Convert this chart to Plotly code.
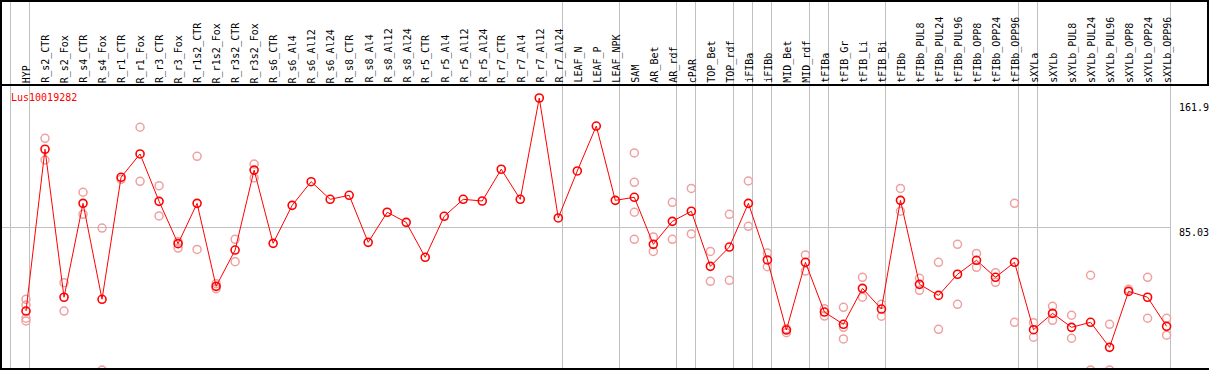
import math
import plotly.graph_objects as go

categories = [
    "HYP", "R_s2_CTR", "R_s2_Fox", "R_s4_CTR", "R_s4_Fox", "R_r1_CTR", "R_r1_Fox",
    "R_r3_CTR", "R_r3_Fox", "R_r1s2_CTR", "R_r1s2_Fox", "R_r3s2_CTR", "R_r3s2_Fox",
    "R_s6_CTR", "R_s6_Al4", "R_s6_Al12", "R_s6_Al24", "R_s8_CTR", "R_s8_Al4",
    "R_s8_Al12", "R_s8_Al24", "R_r5_CTR", "R_r5_Al4", "R_r5_Al12", "R_r5_Al24",
    "R_r7_CTR", "R_r7_Al4", "R_r7_Al12", "R_r7_Al24", "LEAF_N", "LEAF_P", "LEAF_NPK",
    "SAM", "AR_Bet", "AR_rdf", "cPAR", "TOP_Bet", "TOP_rdf", "iFIBa", "iFIBb",
    "MID_Bet", "MID_rdf", "tFIBa", "tFIB_Gr", "tFIB_Li", "tFIB_Bi", "tFIBb",
    "tFIBb_PUL8", "tFIBb_PUL24", "tFIBb_PUL96", "tFIBb_OPP8", "tFIBb_OPP24",
    "tFIBb_OPP96", "sXYLa", "sXYLb", "sXYLb_PUL8", "sXYLb_PUL24", "sXYLb_PUL96",
    "sXYLb_OPP8", "sXYLb_OPP24", "sXYLb_OPP96",
]

mean_values = [
    35.1, 131.4, 43.3, 99.2, 42.1, 114.7, 128.6, 100.4, 75.2, 99.2, 49.8, 71.4, 119.0,
    75.4, 98.0, 112.1, 101.6, 104.0, 76.0, 93.9, 87.9, 67.1, 91.5, 101.6, 100.6,
    119.5, 101.6, 161.9, 90.5, 118.5, 145.2, 101.0, 102.8, 74.8, 88.5, 94.5, 61.7,
    73.2, 99.2, 65.5, 23.8, 64.1, 34.5, 27.2, 48.6, 36.3, 101.0, 51.0, 44.4, 57.0,
    65.3, 55.2, 64.1, 24.0, 33.7, 25.4, 28.4, 13.5, 46.8, 43.3, 26.0,
]

rep_categories = [
    "HYP", "HYP", "HYP", "HYP", "R_s2_CTR", "R_s2_CTR", "R_s2_Fox", "R_s2_Fox",
    "R_s4_CTR", "R_s4_CTR", "R_s4_Fox", "R_s4_Fox", "R_r1_CTR", "R_r1_Fox", "R_r1_Fox",
    "R_r3_CTR", "R_r3_CTR", "R_r3_Fox", "R_r3_Fox", "R_r1s2_CTR", "R_r1s2_CTR",
    "R_r1s2_Fox", "R_r1s2_Fox", "R_r3s2_CTR", "R_r3s2_CTR", "R_r3s2_Fox", "R_r3s2_Fox",
    "SAM", "SAM", "SAM", "SAM", "AR_Bet", "AR_Bet", "AR_rdf", "AR_rdf", "cPAR", "cPAR",
    "TOP_Bet", "TOP_Bet", "TOP_rdf", "TOP_rdf", "iFIBa", "iFIBa", "iFIBb", "iFIBb",
    "MID_Bet", "MID_Bet", "MID_rdf", "MID_rdf", "tFIBa", "tFIBa",
    "tFIB_Gr", "tFIB_Gr", "tFIB_Gr", "tFIB_Li", "tFIB_Li", "tFIB_Bi", "tFIB_Bi",
    "tFIBb", "tFIBb", "tFIBb_PUL8", "tFIBb_PUL8", "tFIBb_PUL24", "tFIBb_PUL24",
    "tFIBb_PUL96", "tFIBb_PUL96", "tFIBb_OPP8", "tFIBb_OPP8", "tFIBb_OPP24", "tFIBb_OPP24",
    "tFIBb_OPP96", "tFIBb_OPP96", "sXYLa", "sXYLa", "sXYLb", "sXYLb",
    "sXYLb_PUL8", "sXYLb_PUL8", "sXYLb_PUL24", "sXYLb_PUL24", "sXYLb_PUL96", "sXYLb_PUL96",
    "sXYLb_OPP8", "sXYLb_OPP24", "sXYLb_OPP24", "sXYLb_OPP96", "sXYLb_OPP96",
]

rep_values = [
    42.1, 38.7, 30.8, 29.2, 137.9, 125.0, 52.0, 35.1,
    105.8, 92.7, 84.5, 0.0, 113.5, 144.5, 112.3,
    109.7, 91.7, 76.4, 72.6, 127.2, 71.8,
    51.4, 48.4, 77.8, 64.5, 122.6, 114.3,
    129.2, 111.7, 93.9, 77.8, 79.2, 70.6, 99.8, 77.8, 108.1, 81.0,
    70.6, 52.8, 92.7, 53.4, 112.5, 85.5, 69.6, 61.5,
    24.6, 22.2, 68.5, 58.9, 36.5, 32.1,
    37.3, 25.4, 18.5, 55.2, 43.3, 39.1, 32.0,
    108.1, 94.5, 54.6, 47.4, 64.1, 24.2,
    74.8, 39.1, 69.4, 61.1, 57.9, 52.2,
    99.2, 28.4, 28.2, 19.5, 37.9, 29.6,
    32.6, 18.9, 56.4, 0.0, 27.2, 0.0,
    48.0, 55.2, 30.8, 30.8, 20.7,
]

group_ends = [-1, 0, 28, 31, 34, 35, 37, 38, 39, 41, 42, 45, 52, 53, 60]
y_ticks = [161.9, 85.03, 0]
y_tick_labels = ["161.9", "85.03", "0"]
gene_name = "Lus10019282"

# ---- geometry (pixels) ----
W, H = 1209, 370
TOP_M, BOT_M = 86, 1
X_ORIGIN, X_STEP = 26, 19.01
X0 = -X_ORIGIN / X_STEP
X1 = (W - X_ORIGIN) / X_STEP
Y0, Y1 = 0.6, 169.05
PH = H - TOP_M - BOT_M


def xpix(v):
    return X_ORIGIN + X_STEP * v


def ypix(v):
    return TOP_M + (Y1 - v) * PH / (Y1 - Y0)


def px2paper_x(px):
    return px / W


def px2paper_y(px):
    return (H - BOT_M - px) / PH


def crisp(px):
    return math.floor(px) + 0.5


idx = {c: i for i, c in enumerate(categories)}
x_main = list(range(len(categories)))
x_rep = [idx[c] for c in rep_categories]

MONO = "DejaVu Sans Mono"
GRAY = "#c0c0c0"

fig = go.Figure()
fig.add_trace(go.Scatter(
    x=x_rep, y=rep_values, mode="markers",
    marker=dict(symbol="circle-open", size=8, color="#f0a0a0", line=dict(width=1.5, color="#f0a0a0")),
    hoverinfo="skip", showlegend=False,
))
fig.add_trace(go.Scatter(
    x=x_main, y=mean_values, mode="lines+markers",
    line=dict(color="#ff0000", width=1),
    marker=dict(symbol="circle-open", size=8, color="#ff0000", line=dict(width=1.6, color="#ff0000")),
    text=categories, showlegend=False,
))

shapes = []
# group separators (full height), snapped to pixel columns
for g in group_ends:
    cx = crisp(xpix(g + 0.2))
    xp = px2paper_x(cx)
    shapes.append(dict(type="line", xref="paper", yref="paper", x0=xp, x1=xp,
                       y0=px2paper_y(H), y1=px2paper_y(0),
                       line=dict(color=GRAY, width=1), layer="below"))
    # same separator in data coordinates (plot-area part)
    xv = (cx - X_ORIGIN) / X_STEP
    shapes.append(dict(type="line", xref="x", yref="paper", x0=xv, x1=xv, y0=0, y1=1,
                       line=dict(color=GRAY, width=1), layer="below"))
# horizontal grid at middle tick
yp = px2paper_y(crisp(ypix(y_ticks[1])))
shapes.append(dict(type="line", xref="paper", yref="paper", x0=0,
                   x1=px2paper_x(crisp(xpix(60 + 0.2)) + 0.5),
                   y0=yp, y1=yp, line=dict(color=GRAY, width=1), layer="below"))
# black frame
BLK = dict(color="black", width=2)
shapes.append(dict(type="line", xref="paper", yref="paper", x0=0, x1=1, y0=px2paper_y(1), y1=px2paper_y(1), line=BLK))
shapes.append(dict(type="line", xref="paper", yref="paper", x0=0, x1=1, y0=px2paper_y(85), y1=px2paper_y(85), line=BLK))
shapes.append(dict(type="line", xref="paper", yref="paper", x0=0, x1=1, y0=px2paper_y(369), y1=px2paper_y(369), line=BLK))
shapes.append(dict(type="line", xref="paper", yref="paper", x0=px2paper_x(1), x1=px2paper_x(1),
                   y0=px2paper_y(370), y1=px2paper_y(0), line=BLK))
shapes.append(dict(type="line", xref="paper", yref="paper", x0=px2paper_x(W - 1), x1=px2paper_x(W - 1),
                   y0=px2paper_y(86), y1=px2paper_y(0), line=BLK))

annotations = []
for i, c in enumerate(categories):
    annotations.append(dict(x=i + 0.07, xref="x", y=px2paper_y(84), yref="paper", text=c,
                            textangle=-90, xanchor="center", yanchor="bottom", showarrow=False,
                            font=dict(family=MONO, size=10, color="black"), borderpad=0))
annotations.append(dict(x=px2paper_x(10), xref="paper", y=px2paper_y(97), yref="paper", text=gene_name,
                        xanchor="left", yanchor="middle", showarrow=False,
                        font=dict(family=MONO, size=10, color="#ff0000"), borderpad=0))
tick_shift = [-9, -5, 8]
for v, lab, s in zip(y_ticks, y_tick_labels, tick_shift):
    annotations.append(dict(x=px2paper_x(1178), xref="paper", y=v, yref="y", text=lab, yshift=s,
                            xanchor="left", yanchor="middle", showarrow=False,
                            font=dict(family=MONO, size=10, color="black"), borderpad=0))

fig.update_layout(
    width=W, height=H,
    margin=dict(l=0, r=0, t=TOP_M, b=BOT_M, pad=0),
    paper_bgcolor="white", plot_bgcolor="rgba(0,0,0,0)",
    xaxis=dict(range=[X0, X1], visible=False, showgrid=False, zeroline=False, fixedrange=True),
    yaxis=dict(range=[Y0, Y1], visible=False, showgrid=False, zeroline=False, fixedrange=True),
    shapes=shapes, annotations=annotations, showlegend=False,
)

fig.write_html(
    "out.html",
    config={"displayModeBar": False, "staticPlot": True},
    post_script="document.body.style.margin='0';document.body.style.padding='0';document.body.style.overflow='hidden';",
)
